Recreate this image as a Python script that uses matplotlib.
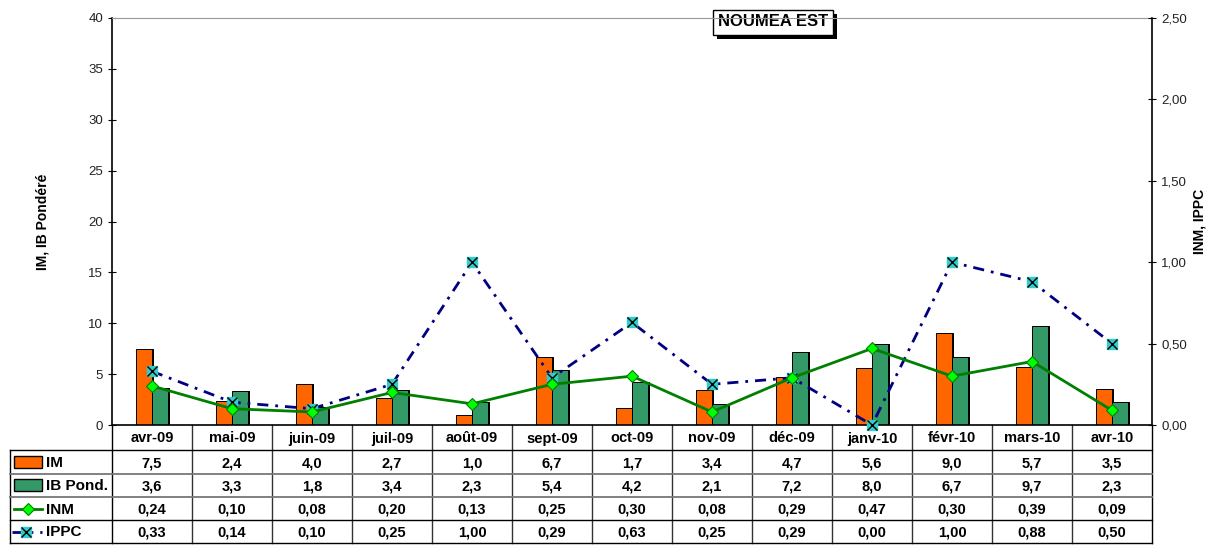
import numpy as np
import matplotlib as mpl; mpl.use("Agg")
import matplotlib.pyplot as plt
import matplotlib.transforms as mtrans
import matplotlib.patheffects as pe
from matplotlib.patches import Rectangle
from matplotlib.ticker import FuncFormatter

mpl.rcParams["font.family"] = ["Liberation Sans", "DejaVu Sans"]

months = ["avr-09", "mai-09", "juin-09", "juil-09", "août-09", "sept-09", "oct-09",
          "nov-09", "déc-09", "janv-10", "févr-10", "mars-10", "avr-10"]
im = [7.5, 2.4, 4.0, 2.7, 1.0, 6.7, 1.7, 3.4, 4.7, 5.6, 9.0, 5.7, 3.5]
ib = [3.6, 3.3, 1.8, 3.4, 2.3, 5.4, 4.2, 2.1, 7.2, 8.0, 6.7, 9.7, 2.3]
inm = [0.24, 0.10, 0.08, 0.20, 0.13, 0.25, 0.30, 0.08, 0.29, 0.47, 0.30, 0.39, 0.09]
ippc = [0.33, 0.14, 0.10, 0.25, 1.00, 0.29, 0.63, 0.25, 0.29, 0.00, 1.00, 0.88, 0.50]

ORANGE = "#FF6600"; GREEN = "#339966"; DKGREEN = "#008000"; LIME = "#00FF00"
NAVY = "#000080"; CYAN = "#33CCCC"

W, H = 1212, 545
L, R, T, B = 112, 1152, 18, 425
fig = plt.figure(figsize=(W / 100, H / 100), dpi=100)

# overlay in pixel coords for the data table and title box
ov = fig.add_axes([0, 0, 1, 1], zorder=0)
ov.set_xlim(0, W); ov.set_ylim(H, 0); ov.axis("off")

ax = fig.add_axes([L / W, (H - B) / H, (R - L) / W, (B - T) / H], zorder=2)
ax.patch.set_alpha(0)
x = np.arange(len(months))
bw = 0.2
sh = 0.03
ax.bar(x - bw / 2 + sh, im, bw, color="black", zorder=1)
ax.bar(x + bw / 2 + sh, ib, bw, color="black", zorder=1)
ax.bar(x - bw / 2, im, bw, color=ORANGE, edgecolor="black", lw=0.7, zorder=2)
ax.bar(x + bw / 2, ib, bw, color=GREEN, edgecolor="black", lw=0.7, zorder=2)
ax.set_xlim(-0.5, len(months) - 0.5)
ax.set_ylim(0, 40)
ax.set_yticks(range(0, 41, 5))
ax.set_xticks([])
ax.tick_params(axis="y", direction="inout", length=6, labelsize=9.5, colors="black", labelcolor="#222")
ax.spines["top"].set_color("#999999")
ax.spines["right"].set_visible(False)
ax.spines["left"].set_linewidth(1.2)
ax.spines["bottom"].set_linewidth(1.2)
ax.set_ylabel("IM, IB Pondéré", fontsize=10, fontweight="bold", labelpad=28)

ax2 = ax.twinx()
ax2.set_ylim(0, 2.5)
ax2.set_yticks(np.arange(0, 2.51, 0.5))
ax2.yaxis.set_major_formatter(FuncFormatter(lambda v, p: f"{v:.2f}".replace(".", ",")))
ax2.tick_params(axis="y", direction="inout", length=6, labelsize=9.5, labelcolor="#222")
for s in ["top", "left", "bottom"]:
    ax2.spines[s].set_visible(False)
ax2.spines["right"].set_linewidth(1.2)
ax2.set_ylabel("INM, IPPC", fontsize=10, fontweight="bold", rotation=90, labelpad=4)
ax2.plot(x, ippc, color=NAVY, lw=2, dashes=(4, 2.5, 1, 2.5), zorder=3, clip_on=False)
ax2.plot(x, ippc, ls="none", marker="s", ms=7.5, mfc=CYAN, mec=CYAN, zorder=4, clip_on=False)
ax2.plot(x, ippc, ls="none", marker="x", ms=7.5, mec="black", mew=1, zorder=5, clip_on=False)
ax2.plot(x, inm, color=DKGREEN, lw=2, marker="D", ms=6.5, mfc=LIME, mec=DKGREEN, mew=0.8,
         zorder=6, clip_on=False)

# title box
t = ov.text(773, 22, "NOUMEA EST", fontsize=12, fontweight="bold", ha="center", va="center",
            zorder=10, bbox=dict(boxstyle="square,pad=0.3", fc="white", ec="black", lw=1))
t.get_bbox_patch().set_path_effects([pe.withSimplePatchShadow(offset=(3, -3), shadow_rgbFace="black", alpha=1)])

# data table
rows = [B, 450, 474, 497, 520, 543]
colx = [L + k * (R - L) / len(months) for k in range(len(months) + 1)]
for k, cx in enumerate(colx):
    ov.plot([cx, cx], [B, rows[-1]], color="black" if k in (0, len(months)) else "#333", lw=1)
ov.plot([10, 10], [rows[1], rows[-1]], color="black", lw=1)
for i, ry in enumerate(rows[1:]):
    ov.plot([10, R], [ry, ry], color="black" if i in (0, 3, 4) else "#777", lw=1.3 if i in (1, 2) else 1)

tr = mtrans.blended_transform_factory(ax.transData, ov.transData)
vals = [[f"{v:.1f}" for v in im], [f"{v:.1f}" for v in ib],
        [f"{v:.2f}" for v in inm], [f"{v:.2f}" for v in ippc]]
for i, m in enumerate(months):
    ov.text(i, (rows[0] + rows[1]) / 2 + 1, m, transform=tr, ha="center", va="center",
            fontsize=10.5, fontweight="bold")
    for r in range(4):
        ov.text(i, (rows[r + 1] + rows[r + 2]) / 2 + 1, vals[r][i].replace(".", ","), transform=tr,
                ha="center", va="center", fontsize=10.5, fontweight="bold")

names = ["IM", "IB Pond.", "INM", "IPPC"]
for r, nm in enumerate(names):
    cy = (rows[r + 1] + rows[r + 2]) / 2
    ov.text(46, cy + 1, nm, ha="left", va="center", fontsize=11, fontweight="bold")
ov.add_patch(Rectangle((14, 456), 28, 12, fc=ORANGE, ec="black", lw=1))
ov.add_patch(Rectangle((14, 479), 28, 12, fc=GREEN, ec="black", lw=1))
cy = (rows[3] + rows[4]) / 2
ov.plot([14, 42], [cy, cy], color=DKGREEN, lw=2)
ov.plot([28], [cy], marker="D", ms=6.5, mfc=LIME, mec=DKGREEN, mew=0.8)
cy = (rows[4] + rows[5]) / 2
ov.plot([12, 42], [cy, cy], color=NAVY, lw=2, dashes=(4, 2.5, 1, 2.5))
ov.plot([26], [cy], marker="s", ms=7.5, mfc=CYAN, mec=CYAN)
ov.plot([26], [cy], marker="x", ms=7.5, mec="black", mew=1)

fig.savefig("out.png", dpi=100, facecolor="white")
